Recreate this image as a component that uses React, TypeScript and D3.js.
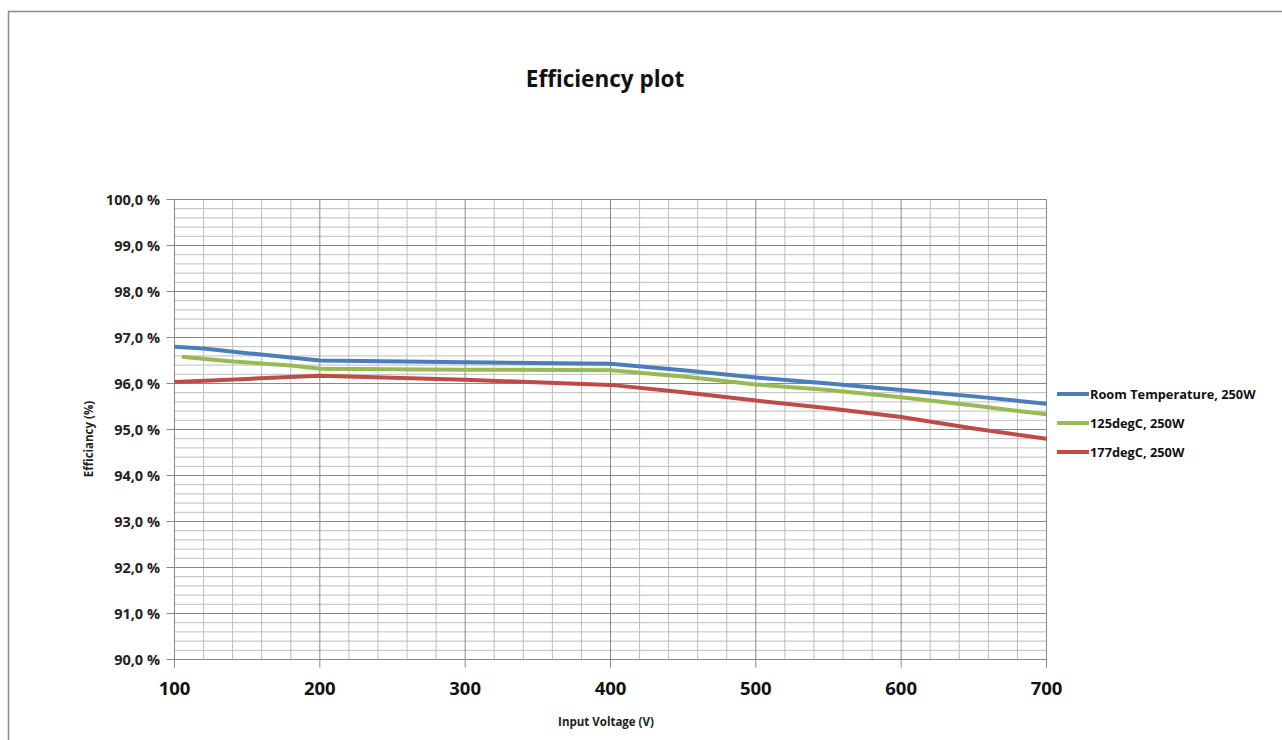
import React from "react";
import * as d3 from "d3";

const W = 1282;
const H = 740;

const title = "Efficiency plot";
const xTitle = "Input Voltage (V)";
const yTitle = "Efficiancy (%)";

const xTicks = [100, 200, 300, 400, 500, 600, 700];
const yTicks = [90, 91, 92, 93, 94, 95, 96, 97, 98, 99, 100];

const seriesNames = ["Room Temperature, 250W", "125degC, 250W", "177degC, 250W"];
const seriesColors = ["#4a7ebb", "#98b954", "#be4b48"];

const roomX = [100, 120, 150, 200, 300, 400, 450, 500, 550, 600, 650, 700];
const roomY = [96.8, 96.76, 96.66, 96.5, 96.46, 96.43, 96.29, 96.13, 96.0, 95.86, 95.72, 95.56];

const deg125X = [105, 140, 180, 200, 300, 400, 450, 500, 550, 600, 650, 700];
const deg125Y = [96.58, 96.48, 96.39, 96.32, 96.3, 96.29, 96.15, 95.98, 95.86, 95.7, 95.52, 95.33];

const deg177X = [100, 150, 200, 300, 400, 450, 500, 550, 600, 650, 700];
const deg177Y = [96.03, 96.1, 96.17, 96.08, 95.97, 95.81, 95.63, 95.46, 95.27, 95.02, 94.8];

const FONT = "'Open Sans', 'Liberation Sans', sans-serif";

export default function App() {
  const left = 174.5;
  const right = 1046.5;
  const top = 199.5;
  const bottom = 659.5;

  const x = d3.scaleLinear().domain([100, 700]).range([left, right]);
  const y = d3.scaleLinear().domain([90, 100]).range([bottom, top]);

  const minorX = d3.range(100, 701, 20).filter((v) => v % 100 !== 0);
  const minorY = d3.range(900, 1001, 2).map((v) => v / 10).filter((v) => Math.abs(v - Math.round(v)) > 1e-6);

  const series = [
    { xs: roomX, ys: roomY },
    { xs: deg125X, ys: deg125Y },
    { xs: deg177X, ys: deg177Y },
  ];

  const line = d3
    .line<[number, number]>()
    .x((d) => x(d[0]))
    .y((d) => y(d[1]));

  const legendY = [394, 423, 452];

  return (
    <svg width={W} height={H} style={{ position: "absolute", left: 0, top: 0, background: "#fff" }}>
      <rect x={8.5} y={11.5} width={1300} height={800} fill="#fff" stroke="#8a8a8a" strokeWidth={1.5} />
      <text x={605} y={87} textAnchor="middle" fontFamily={FONT} fontWeight="bold" fontSize={22.5} fill="#111">
        {title}
      </text>

      {/* minor grid */}
      {minorY.map((v) => (
        <line key={"my" + v} x1={left} x2={right} y1={y(v)} y2={y(v)} stroke="#bdbdbd" strokeWidth={1} />
      ))}
      {minorX.map((v) => (
        <line key={"mx" + v} x1={x(v)} x2={x(v)} y1={top} y2={bottom} stroke="#bdbdbd" strokeWidth={1} />
      ))}
      {/* major grid */}
      {yTicks.map((v) => (
        <line key={"gy" + v} x1={left - 8} x2={right} y1={y(v)} y2={y(v)} stroke="#888" strokeWidth={1} />
      ))}
      {xTicks.map((v) => (
        <line key={"gx" + v} x1={x(v)} x2={x(v)} y1={top} y2={bottom + 8} stroke="#888" strokeWidth={1} />
      ))}
      <line x1={left} x2={left} y1={top} y2={bottom} stroke="#888" />
      <line x1={left} x2={right} y1={bottom} y2={bottom} stroke="#888" />

      {/* y tick labels */}
      {yTicks.map((v) => (
        <text
          key={"ty" + v}
          x={160}
          y={y(v) + 5}
          textAnchor="end"
          fontFamily={FONT}
          fontWeight="bold"
          fontSize={14.5}
          fill="#222"
        >
          {v.toFixed(1).replace(".", ",") + " %"}
        </text>
      ))}
      {/* x tick labels */}
      {xTicks.map((v) => (
        <text
          key={"tx" + v}
          x={x(v)}
          y={695}
          textAnchor="middle"
          fontFamily={FONT}
          fontWeight="bold"
          fontSize={18.5}
          fill="#111"
        >
          {v}
        </text>
      ))}

      <text x={606} y={726} textAnchor="middle" fontFamily={FONT} fontWeight="bold" fontSize={11.5} fill="#222">
        {xTitle}
      </text>
      <text
        transform={`translate(93,${439}) rotate(-90)`}
        textAnchor="middle"
        fontFamily={FONT}
        fontWeight="bold"
        fontSize={11.5}
        fill="#222"
      >
        {yTitle}
      </text>

      {/* series */}
      {series.map((s, i) => (
        <path
          key={"s" + i}
          d={line(s.xs.map((xv, j) => [xv, s.ys[j]] as [number, number])) || ""}
          fill="none"
          stroke={seriesColors[i]}
          strokeWidth={4}
          strokeLinejoin="round"
        />
      ))}

      {/* legend */}
      {seriesNames.map((n, i) => (
        <g key={"lg" + i}>
          <line x1={1057} x2={1089} y1={legendY[i]} y2={legendY[i]} stroke={seriesColors[i]} strokeWidth={4} />
          <text
            x={1090}
            y={legendY[i] + 4.5}
            fontFamily={FONT}
            fontWeight="bold"
            fontSize={12.8}
            fill="#111"
          >
            {n}
          </text>
        </g>
      ))}
    </svg>
  );
}
